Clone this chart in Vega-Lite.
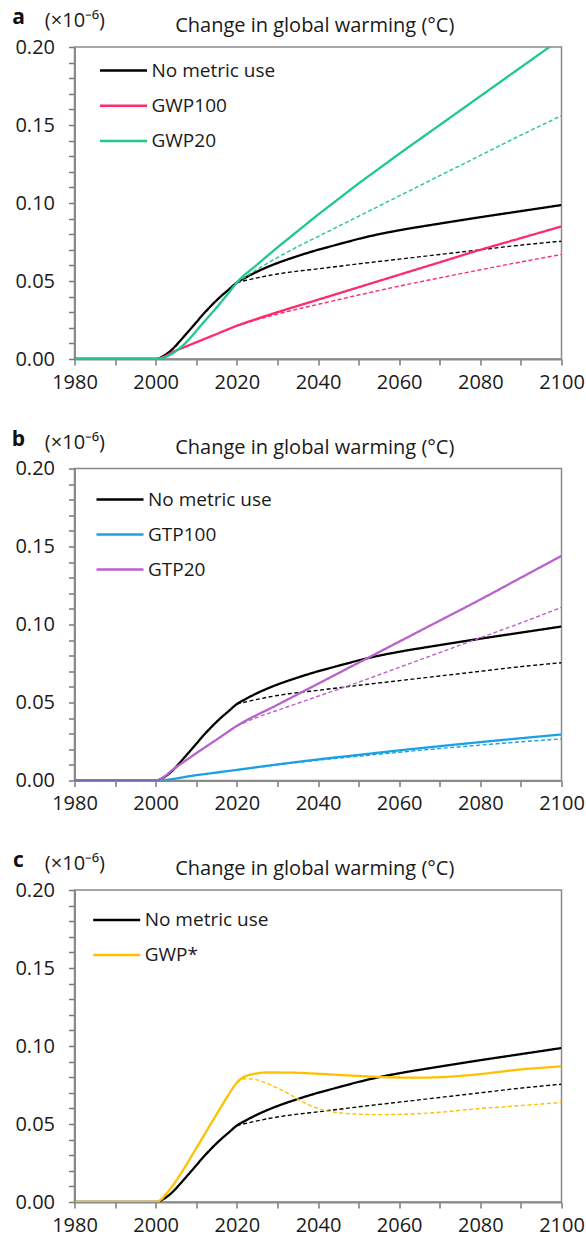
{
  "$schema": "https://vega.github.io/schema/vega-lite/v6.json",
  "padding": {"left": 10.5, "top": 6, "right": 0, "bottom": 0},
  "background": "white",
  "bounds": "flush",
  "spacing": 109.5,
  "config": {
    "view": {"stroke": "#8a8a8a", "strokeWidth": 1.5},
    "font": "Open Sans",
    "axis": {
      "domainColor": "#8a8a8a", "domainWidth": 2, "ticks": true, "tickColor": "#7a7a7a", "tickWidth": 1.5,
      "tickSize": 6, "grid": false, "labelFont": "Open Sans", "labelFontSize": 20, "labelColor": "#1a1a1a", "labelOverlap": false
    },
    "legend": {"labelFont": "Open Sans", "labelFontSize": 19, "labelColor": "#1a1a1a"}
  },
  "resolve": {"scale": {"color": "independent"}},
  "datasets": {
    "curves": [
      {"panel":"a","series":"No metric use","style":"solid","year":1980,"value":0},
      {"panel":"a","series":"No metric use","style":"solid","year":2000,"value":0},
      {"panel":"a","series":"No metric use","style":"solid","year":2002,"value":0.002},
      {"panel":"a","series":"No metric use","style":"solid","year":2004,"value":0.006},
      {"panel":"a","series":"No metric use","style":"solid","year":2006,"value":0.0115},
      {"panel":"a","series":"No metric use","style":"solid","year":2008,"value":0.0175},
      {"panel":"a","series":"No metric use","style":"solid","year":2010,"value":0.0235},
      {"panel":"a","series":"No metric use","style":"solid","year":2012,"value":0.0295},
      {"panel":"a","series":"No metric use","style":"solid","year":2014,"value":0.035},
      {"panel":"a","series":"No metric use","style":"solid","year":2016,"value":0.040},
      {"panel":"a","series":"No metric use","style":"solid","year":2018,"value":0.0445},
      {"panel":"a","series":"No metric use","style":"solid","year":2020,"value":0.049},
      {"panel":"a","series":"No metric use","style":"solid","year":2022,"value":0.052},
      {"panel":"a","series":"No metric use","style":"solid","year":2025,"value":0.056},
      {"panel":"a","series":"No metric use","style":"solid","year":2030,"value":0.0615},
      {"panel":"a","series":"No metric use","style":"solid","year":2035,"value":0.066},
      {"panel":"a","series":"No metric use","style":"solid","year":2040,"value":0.070},
      {"panel":"a","series":"No metric use","style":"solid","year":2045,"value":0.0735},
      {"panel":"a","series":"No metric use","style":"solid","year":2050,"value":0.077},
      {"panel":"a","series":"No metric use","style":"solid","year":2055,"value":0.080},
      {"panel":"a","series":"No metric use","style":"solid","year":2060,"value":0.0825},
      {"panel":"a","series":"No metric use","style":"solid","year":2070,"value":0.0868},
      {"panel":"a","series":"No metric use","style":"solid","year":2080,"value":0.0909},
      {"panel":"a","series":"No metric use","style":"solid","year":2090,"value":0.0948},
      {"panel":"a","series":"No metric use","style":"solid","year":2100,"value":0.0987},
      {"panel":"a","series":"No metric use","style":"dashed","year":2020,"value":0.049},
      {"panel":"a","series":"No metric use","style":"dashed","year":2025,"value":0.052},
      {"panel":"a","series":"No metric use","style":"dashed","year":2030,"value":0.0545},
      {"panel":"a","series":"No metric use","style":"dashed","year":2035,"value":0.0563},
      {"panel":"a","series":"No metric use","style":"dashed","year":2040,"value":0.0578},
      {"panel":"a","series":"No metric use","style":"dashed","year":2050,"value":0.061},
      {"panel":"a","series":"No metric use","style":"dashed","year":2060,"value":0.064},
      {"panel":"a","series":"No metric use","style":"dashed","year":2070,"value":0.067},
      {"panel":"a","series":"No metric use","style":"dashed","year":2080,"value":0.070},
      {"panel":"a","series":"No metric use","style":"dashed","year":2090,"value":0.073},
      {"panel":"a","series":"No metric use","style":"dashed","year":2100,"value":0.0755},
      {"panel":"a","series":"GWP100","style":"solid","year":1980,"value":0},
      {"panel":"a","series":"GWP100","style":"solid","year":2000,"value":0},
      {"panel":"a","series":"GWP100","style":"solid","year":2005,"value":0.0054},
      {"panel":"a","series":"GWP100","style":"solid","year":2010,"value":0.0107},
      {"panel":"a","series":"GWP100","style":"solid","year":2015,"value":0.016},
      {"panel":"a","series":"GWP100","style":"solid","year":2020,"value":0.0213},
      {"panel":"a","series":"GWP100","style":"solid","year":2025,"value":0.0258},
      {"panel":"a","series":"GWP100","style":"solid","year":2030,"value":0.030},
      {"panel":"a","series":"GWP100","style":"solid","year":2040,"value":0.038},
      {"panel":"a","series":"GWP100","style":"solid","year":2050,"value":0.046},
      {"panel":"a","series":"GWP100","style":"solid","year":2060,"value":0.054},
      {"panel":"a","series":"GWP100","style":"solid","year":2070,"value":0.062},
      {"panel":"a","series":"GWP100","style":"solid","year":2080,"value":0.070},
      {"panel":"a","series":"GWP100","style":"solid","year":2090,"value":0.0775},
      {"panel":"a","series":"GWP100","style":"solid","year":2100,"value":0.085},
      {"panel":"a","series":"GWP100","style":"dashed","year":2020,"value":0.0213},
      {"panel":"a","series":"GWP100","style":"dashed","year":2025,"value":0.0252},
      {"panel":"a","series":"GWP100","style":"dashed","year":2030,"value":0.0288},
      {"panel":"a","series":"GWP100","style":"dashed","year":2040,"value":0.035},
      {"panel":"a","series":"GWP100","style":"dashed","year":2050,"value":0.041},
      {"panel":"a","series":"GWP100","style":"dashed","year":2060,"value":0.0467},
      {"panel":"a","series":"GWP100","style":"dashed","year":2070,"value":0.052},
      {"panel":"a","series":"GWP100","style":"dashed","year":2080,"value":0.0572},
      {"panel":"a","series":"GWP100","style":"dashed","year":2090,"value":0.0622},
      {"panel":"a","series":"GWP100","style":"dashed","year":2100,"value":0.067},
      {"panel":"a","series":"GWP20","style":"solid","year":1980,"value":0},
      {"panel":"a","series":"GWP20","style":"solid","year":2000,"value":0},
      {"panel":"a","series":"GWP20","style":"solid","year":2003,"value":0.002},
      {"panel":"a","series":"GWP20","style":"solid","year":2005,"value":0.005},
      {"panel":"a","series":"GWP20","style":"solid","year":2008,"value":0.012},
      {"panel":"a","series":"GWP20","style":"solid","year":2010,"value":0.018},
      {"panel":"a","series":"GWP20","style":"solid","year":2013,"value":0.027},
      {"panel":"a","series":"GWP20","style":"solid","year":2015,"value":0.033},
      {"panel":"a","series":"GWP20","style":"solid","year":2018,"value":0.0425},
      {"panel":"a","series":"GWP20","style":"solid","year":2020,"value":0.049},
      {"panel":"a","series":"GWP20","style":"solid","year":2025,"value":0.0605},
      {"panel":"a","series":"GWP20","style":"solid","year":2030,"value":0.0715},
      {"panel":"a","series":"GWP20","style":"solid","year":2035,"value":0.082},
      {"panel":"a","series":"GWP20","style":"solid","year":2040,"value":0.0925},
      {"panel":"a","series":"GWP20","style":"solid","year":2045,"value":0.1025},
      {"panel":"a","series":"GWP20","style":"solid","year":2050,"value":0.1125},
      {"panel":"a","series":"GWP20","style":"solid","year":2055,"value":0.122},
      {"panel":"a","series":"GWP20","style":"solid","year":2060,"value":0.1315},
      {"panel":"a","series":"GWP20","style":"solid","year":2070,"value":0.150},
      {"panel":"a","series":"GWP20","style":"solid","year":2080,"value":0.1685},
      {"panel":"a","series":"GWP20","style":"solid","year":2090,"value":0.187},
      {"panel":"a","series":"GWP20","style":"solid","year":2100,"value":0.2055},
      {"panel":"a","series":"GWP20","style":"dashed","year":2020,"value":0.049},
      {"panel":"a","series":"GWP20","style":"dashed","year":2025,"value":0.0575},
      {"panel":"a","series":"GWP20","style":"dashed","year":2030,"value":0.065},
      {"panel":"a","series":"GWP20","style":"dashed","year":2035,"value":0.072},
      {"panel":"a","series":"GWP20","style":"dashed","year":2040,"value":0.0785},
      {"panel":"a","series":"GWP20","style":"dashed","year":2050,"value":0.0915},
      {"panel":"a","series":"GWP20","style":"dashed","year":2060,"value":0.1045},
      {"panel":"a","series":"GWP20","style":"dashed","year":2070,"value":0.1175},
      {"panel":"a","series":"GWP20","style":"dashed","year":2080,"value":0.1305},
      {"panel":"a","series":"GWP20","style":"dashed","year":2090,"value":0.1435},
      {"panel":"a","series":"GWP20","style":"dashed","year":2100,"value":0.156},

      {"panel":"b","series":"No metric use","style":"solid","year":1980,"value":0},
      {"panel":"b","series":"No metric use","style":"solid","year":2000,"value":0},
      {"panel":"b","series":"No metric use","style":"solid","year":2002,"value":0.002},
      {"panel":"b","series":"No metric use","style":"solid","year":2004,"value":0.006},
      {"panel":"b","series":"No metric use","style":"solid","year":2006,"value":0.0115},
      {"panel":"b","series":"No metric use","style":"solid","year":2008,"value":0.0175},
      {"panel":"b","series":"No metric use","style":"solid","year":2010,"value":0.0235},
      {"panel":"b","series":"No metric use","style":"solid","year":2012,"value":0.0295},
      {"panel":"b","series":"No metric use","style":"solid","year":2014,"value":0.035},
      {"panel":"b","series":"No metric use","style":"solid","year":2016,"value":0.040},
      {"panel":"b","series":"No metric use","style":"solid","year":2018,"value":0.0445},
      {"panel":"b","series":"No metric use","style":"solid","year":2020,"value":0.049},
      {"panel":"b","series":"No metric use","style":"solid","year":2022,"value":0.052},
      {"panel":"b","series":"No metric use","style":"solid","year":2025,"value":0.056},
      {"panel":"b","series":"No metric use","style":"solid","year":2030,"value":0.0615},
      {"panel":"b","series":"No metric use","style":"solid","year":2035,"value":0.066},
      {"panel":"b","series":"No metric use","style":"solid","year":2040,"value":0.070},
      {"panel":"b","series":"No metric use","style":"solid","year":2045,"value":0.0735},
      {"panel":"b","series":"No metric use","style":"solid","year":2050,"value":0.077},
      {"panel":"b","series":"No metric use","style":"solid","year":2055,"value":0.080},
      {"panel":"b","series":"No metric use","style":"solid","year":2060,"value":0.0825},
      {"panel":"b","series":"No metric use","style":"solid","year":2070,"value":0.0868},
      {"panel":"b","series":"No metric use","style":"solid","year":2080,"value":0.0909},
      {"panel":"b","series":"No metric use","style":"solid","year":2090,"value":0.0948},
      {"panel":"b","series":"No metric use","style":"solid","year":2100,"value":0.0987},
      {"panel":"b","series":"No metric use","style":"dashed","year":2020,"value":0.049},
      {"panel":"b","series":"No metric use","style":"dashed","year":2025,"value":0.052},
      {"panel":"b","series":"No metric use","style":"dashed","year":2030,"value":0.0545},
      {"panel":"b","series":"No metric use","style":"dashed","year":2035,"value":0.0563},
      {"panel":"b","series":"No metric use","style":"dashed","year":2040,"value":0.0578},
      {"panel":"b","series":"No metric use","style":"dashed","year":2050,"value":0.061},
      {"panel":"b","series":"No metric use","style":"dashed","year":2060,"value":0.064},
      {"panel":"b","series":"No metric use","style":"dashed","year":2070,"value":0.067},
      {"panel":"b","series":"No metric use","style":"dashed","year":2080,"value":0.070},
      {"panel":"b","series":"No metric use","style":"dashed","year":2090,"value":0.073},
      {"panel":"b","series":"No metric use","style":"dashed","year":2100,"value":0.0755},
      {"panel":"b","series":"GTP100","style":"solid","year":1980,"value":0},
      {"panel":"b","series":"GTP100","style":"solid","year":2000,"value":0},
      {"panel":"b","series":"GTP100","style":"solid","year":2010,"value":0.0034},
      {"panel":"b","series":"GTP100","style":"solid","year":2020,"value":0.0068},
      {"panel":"b","series":"GTP100","style":"solid","year":2030,"value":0.0103},
      {"panel":"b","series":"GTP100","style":"solid","year":2040,"value":0.0135},
      {"panel":"b","series":"GTP100","style":"solid","year":2050,"value":0.0164},
      {"panel":"b","series":"GTP100","style":"solid","year":2060,"value":0.0193},
      {"panel":"b","series":"GTP100","style":"solid","year":2070,"value":0.0220},
      {"panel":"b","series":"GTP100","style":"solid","year":2080,"value":0.0246},
      {"panel":"b","series":"GTP100","style":"solid","year":2090,"value":0.0271},
      {"panel":"b","series":"GTP100","style":"solid","year":2100,"value":0.0295},
      {"panel":"b","series":"GTP100","style":"dashed","year":2020,"value":0.0068},
      {"panel":"b","series":"GTP100","style":"dashed","year":2030,"value":0.0100},
      {"panel":"b","series":"GTP100","style":"dashed","year":2040,"value":0.0130},
      {"panel":"b","series":"GTP100","style":"dashed","year":2050,"value":0.0156},
      {"panel":"b","series":"GTP100","style":"dashed","year":2060,"value":0.0181},
      {"panel":"b","series":"GTP100","style":"dashed","year":2070,"value":0.0205},
      {"panel":"b","series":"GTP100","style":"dashed","year":2080,"value":0.0227},
      {"panel":"b","series":"GTP100","style":"dashed","year":2090,"value":0.0248},
      {"panel":"b","series":"GTP100","style":"dashed","year":2100,"value":0.0267},
      {"panel":"b","series":"GTP20","style":"solid","year":1980,"value":0},
      {"panel":"b","series":"GTP20","style":"solid","year":2000,"value":0},
      {"panel":"b","series":"GTP20","style":"solid","year":2005,"value":0.0085},
      {"panel":"b","series":"GTP20","style":"solid","year":2010,"value":0.0175},
      {"panel":"b","series":"GTP20","style":"solid","year":2015,"value":0.0262},
      {"panel":"b","series":"GTP20","style":"solid","year":2020,"value":0.035},
      {"panel":"b","series":"GTP20","style":"solid","year":2030,"value":0.0485},
      {"panel":"b","series":"GTP20","style":"solid","year":2040,"value":0.062},
      {"panel":"b","series":"GTP20","style":"solid","year":2050,"value":0.0755},
      {"panel":"b","series":"GTP20","style":"solid","year":2060,"value":0.089},
      {"panel":"b","series":"GTP20","style":"solid","year":2070,"value":0.1025},
      {"panel":"b","series":"GTP20","style":"solid","year":2080,"value":0.116},
      {"panel":"b","series":"GTP20","style":"solid","year":2090,"value":0.130},
      {"panel":"b","series":"GTP20","style":"solid","year":2100,"value":0.144},
      {"panel":"b","series":"GTP20","style":"dashed","year":2020,"value":0.035},
      {"panel":"b","series":"GTP20","style":"dashed","year":2025,"value":0.0405},
      {"panel":"b","series":"GTP20","style":"dashed","year":2030,"value":0.045},
      {"panel":"b","series":"GTP20","style":"dashed","year":2035,"value":0.0495},
      {"panel":"b","series":"GTP20","style":"dashed","year":2040,"value":0.054},
      {"panel":"b","series":"GTP20","style":"dashed","year":2050,"value":0.063},
      {"panel":"b","series":"GTP20","style":"dashed","year":2060,"value":0.0725},
      {"panel":"b","series":"GTP20","style":"dashed","year":2070,"value":0.082},
      {"panel":"b","series":"GTP20","style":"dashed","year":2080,"value":0.0915},
      {"panel":"b","series":"GTP20","style":"dashed","year":2090,"value":0.101},
      {"panel":"b","series":"GTP20","style":"dashed","year":2100,"value":0.111},

      {"panel":"c","series":"No metric use","style":"solid","year":1980,"value":0},
      {"panel":"c","series":"No metric use","style":"solid","year":2000,"value":0},
      {"panel":"c","series":"No metric use","style":"solid","year":2002,"value":0.002},
      {"panel":"c","series":"No metric use","style":"solid","year":2004,"value":0.006},
      {"panel":"c","series":"No metric use","style":"solid","year":2006,"value":0.0115},
      {"panel":"c","series":"No metric use","style":"solid","year":2008,"value":0.0175},
      {"panel":"c","series":"No metric use","style":"solid","year":2010,"value":0.0235},
      {"panel":"c","series":"No metric use","style":"solid","year":2012,"value":0.0295},
      {"panel":"c","series":"No metric use","style":"solid","year":2014,"value":0.035},
      {"panel":"c","series":"No metric use","style":"solid","year":2016,"value":0.040},
      {"panel":"c","series":"No metric use","style":"solid","year":2018,"value":0.0445},
      {"panel":"c","series":"No metric use","style":"solid","year":2020,"value":0.049},
      {"panel":"c","series":"No metric use","style":"solid","year":2022,"value":0.052},
      {"panel":"c","series":"No metric use","style":"solid","year":2025,"value":0.056},
      {"panel":"c","series":"No metric use","style":"solid","year":2030,"value":0.0615},
      {"panel":"c","series":"No metric use","style":"solid","year":2035,"value":0.066},
      {"panel":"c","series":"No metric use","style":"solid","year":2040,"value":0.070},
      {"panel":"c","series":"No metric use","style":"solid","year":2045,"value":0.0735},
      {"panel":"c","series":"No metric use","style":"solid","year":2050,"value":0.077},
      {"panel":"c","series":"No metric use","style":"solid","year":2055,"value":0.080},
      {"panel":"c","series":"No metric use","style":"solid","year":2060,"value":0.0825},
      {"panel":"c","series":"No metric use","style":"solid","year":2070,"value":0.0868},
      {"panel":"c","series":"No metric use","style":"solid","year":2080,"value":0.0909},
      {"panel":"c","series":"No metric use","style":"solid","year":2090,"value":0.0948},
      {"panel":"c","series":"No metric use","style":"solid","year":2100,"value":0.0987},
      {"panel":"c","series":"No metric use","style":"dashed","year":2020,"value":0.049},
      {"panel":"c","series":"No metric use","style":"dashed","year":2025,"value":0.052},
      {"panel":"c","series":"No metric use","style":"dashed","year":2030,"value":0.0545},
      {"panel":"c","series":"No metric use","style":"dashed","year":2035,"value":0.0563},
      {"panel":"c","series":"No metric use","style":"dashed","year":2040,"value":0.0578},
      {"panel":"c","series":"No metric use","style":"dashed","year":2050,"value":0.061},
      {"panel":"c","series":"No metric use","style":"dashed","year":2060,"value":0.064},
      {"panel":"c","series":"No metric use","style":"dashed","year":2070,"value":0.067},
      {"panel":"c","series":"No metric use","style":"dashed","year":2080,"value":0.070},
      {"panel":"c","series":"No metric use","style":"dashed","year":2090,"value":0.073},
      {"panel":"c","series":"No metric use","style":"dashed","year":2100,"value":0.0755},
      {"panel":"c","series":"GWP*","style":"solid","year":1980,"value":0},
      {"panel":"c","series":"GWP*","style":"solid","year":2000,"value":0},
      {"panel":"c","series":"GWP*","style":"solid","year":2001,"value":0.001},
      {"panel":"c","series":"GWP*","style":"solid","year":2003,"value":0.0065},
      {"panel":"c","series":"GWP*","style":"solid","year":2005,"value":0.0135},
      {"panel":"c","series":"GWP*","style":"solid","year":2007,"value":0.0215},
      {"panel":"c","series":"GWP*","style":"solid","year":2010,"value":0.0345},
      {"panel":"c","series":"GWP*","style":"solid","year":2013,"value":0.0475},
      {"panel":"c","series":"GWP*","style":"solid","year":2016,"value":0.0605},
      {"panel":"c","series":"GWP*","style":"solid","year":2018,"value":0.069},
      {"panel":"c","series":"GWP*","style":"solid","year":2020,"value":0.0765},
      {"panel":"c","series":"GWP*","style":"solid","year":2022,"value":0.0805},
      {"panel":"c","series":"GWP*","style":"solid","year":2024,"value":0.082},
      {"panel":"c","series":"GWP*","style":"solid","year":2027,"value":0.083},
      {"panel":"c","series":"GWP*","style":"solid","year":2030,"value":0.083},
      {"panel":"c","series":"GWP*","style":"solid","year":2035,"value":0.0828},
      {"panel":"c","series":"GWP*","style":"solid","year":2040,"value":0.0822},
      {"panel":"c","series":"GWP*","style":"solid","year":2045,"value":0.0815},
      {"panel":"c","series":"GWP*","style":"solid","year":2050,"value":0.0808},
      {"panel":"c","series":"GWP*","style":"solid","year":2055,"value":0.0802},
      {"panel":"c","series":"GWP*","style":"solid","year":2060,"value":0.0798},
      {"panel":"c","series":"GWP*","style":"solid","year":2065,"value":0.0797},
      {"panel":"c","series":"GWP*","style":"solid","year":2070,"value":0.080},
      {"panel":"c","series":"GWP*","style":"solid","year":2075,"value":0.0808},
      {"panel":"c","series":"GWP*","style":"solid","year":2080,"value":0.082},
      {"panel":"c","series":"GWP*","style":"solid","year":2085,"value":0.0835},
      {"panel":"c","series":"GWP*","style":"solid","year":2090,"value":0.085},
      {"panel":"c","series":"GWP*","style":"solid","year":2095,"value":0.086},
      {"panel":"c","series":"GWP*","style":"solid","year":2100,"value":0.087},
      {"panel":"c","series":"GWP*","style":"dashed","year":2020,"value":0.0765},
      {"panel":"c","series":"GWP*","style":"dashed","year":2022,"value":0.079},
      {"panel":"c","series":"GWP*","style":"dashed","year":2024,"value":0.0788},
      {"panel":"c","series":"GWP*","style":"dashed","year":2026,"value":0.0775},
      {"panel":"c","series":"GWP*","style":"dashed","year":2028,"value":0.0755},
      {"panel":"c","series":"GWP*","style":"dashed","year":2030,"value":0.073},
      {"panel":"c","series":"GWP*","style":"dashed","year":2032,"value":0.0705},
      {"panel":"c","series":"GWP*","style":"dashed","year":2034,"value":0.0675},
      {"panel":"c","series":"GWP*","style":"dashed","year":2036,"value":0.0645},
      {"panel":"c","series":"GWP*","style":"dashed","year":2038,"value":0.062},
      {"panel":"c","series":"GWP*","style":"dashed","year":2040,"value":0.060},
      {"panel":"c","series":"GWP*","style":"dashed","year":2043,"value":0.058},
      {"panel":"c","series":"GWP*","style":"dashed","year":2046,"value":0.057},
      {"panel":"c","series":"GWP*","style":"dashed","year":2050,"value":0.0563},
      {"panel":"c","series":"GWP*","style":"dashed","year":2055,"value":0.056},
      {"panel":"c","series":"GWP*","style":"dashed","year":2060,"value":0.0562},
      {"panel":"c","series":"GWP*","style":"dashed","year":2065,"value":0.0567},
      {"panel":"c","series":"GWP*","style":"dashed","year":2070,"value":0.0575},
      {"panel":"c","series":"GWP*","style":"dashed","year":2075,"value":0.0587},
      {"panel":"c","series":"GWP*","style":"dashed","year":2080,"value":0.060},
      {"panel":"c","series":"GWP*","style":"dashed","year":2085,"value":0.0608},
      {"panel":"c","series":"GWP*","style":"dashed","year":2090,"value":0.0618},
      {"panel":"c","series":"GWP*","style":"dashed","year":2095,"value":0.0628},
      {"panel":"c","series":"GWP*","style":"dashed","year":2100,"value":0.0638}
    ]
  },
  "vconcat": [
    {
      "width": 487, "height": 312,
      "resolve": {"axis": {"x": "independent", "y": "independent"}},
      "layer": [
        {
          "data": {"name": "curves"},
          "transform": [{"filter": "datum.panel === 'a'"}],
          "mark": {"type": "line", "interpolate": "monotone", "clip": true},
          "encoding": {
            "x": {"field": "year", "type": "quantitative", "scale": {"domain": [1980, 2100], "nice": false, "zero": false},
                  "axis": {"title": null, "orient": "bottom", "values": [1980,1990,2000,2010,2020,2030,2040,2050,2060,2070,2080,2090,2100], "labelExpr": "datum.value % 20 == 0 ? format(datum.value, 'd') : ''", "labelPadding": 7, "labelFlush": false, "labelOverlap": false, "ticks": true, "tickSize": 6, "tickWidth": 1.5, "tickColor": "#7a7a7a"}},
            "y": {"field": "value", "type": "quantitative", "scale": {"domain": [0, 0.2], "nice": false, "zero": false},
                  "axis": {"title": null, "orient": "left", "values": [0,0.01,0.02,0.03,0.04,0.05,0.06,0.07,0.08,0.09,0.1,0.11,0.12,0.13,0.14,0.15,0.16,0.17,0.18,0.19,0.2], "labelExpr": "round(datum.value*100) % 5 == 0 ? format(datum.value, '.2f') : ''", "labelPadding": 14, "labelOverlap": false, "labelFlush": false, "ticks": true, "tickSize": 6, "tickWidth": 1.5, "tickColor": "#7a7a7a"}},
            "color": {"field": "series", "type": "nominal", "sort": ["No metric use", "GWP100", "GWP20"],
                      "scale": {"domain": ["No metric use", "GWP100", "GWP20"], "range": ["#000000", "#FF2A6A", "#1EC98B"]},
                      "legend": {"title": null, "orient": "none", "legendX": 24, "legendY": -1.5, "padding": 0, "symbolType": "stroke", "symbolSize": 2209, "symbolStrokeWidth": 2.5, "labelOffset": 3, "rowPadding": 0.3}},
            "strokeDash": {"field": "style", "type": "nominal", "scale": {"domain": ["solid", "dashed"], "range": [[1, 0], [4, 2.5]]}, "legend": null},
            "strokeWidth": {"field": "style", "type": "nominal", "scale": {"domain": ["solid", "dashed"], "range": [2.3, 1.4]}, "legend": null},
            "detail": {"field": "style"}
          }
        },
        {
          "data": {"values": [{"t": "a"}]},
          "mark": {"type": "text", "font": "Open Sans", "fontSize": 21, "fontWeight": "bold", "align": "center", "baseline": "alphabetic", "color": "#111111"},
          "encoding": {"text": {"field": "t"}, "x": {"datum": 1966.2, "type": "quantitative", "axis": null}, "y": {"datum": 0.2147, "type": "quantitative", "axis": null}}
        },
        {
          "data": {"values": [{"t": "(×10⁻⁶)"}]},
          "mark": {"type": "text", "font": "Open Sans", "fontSize": 20, "align": "left", "baseline": "alphabetic", "color": "#1a1a1a"},
          "encoding": {"text": {"field": "t"}, "x": {"datum": 1972.7, "type": "quantitative", "axis": null}, "y": {"datum": 0.2126, "type": "quantitative", "axis": null}}
        },
        {
          "data": {"values": [{"t": "Change in global warming (°C)"}]},
          "mark": {"type": "text", "font": "Open Sans", "fontSize": 20, "align": "center", "baseline": "alphabetic", "color": "#1a1a1a"},
          "encoding": {"text": {"field": "t"}, "x": {"datum": 2039.2, "type": "quantitative", "axis": null}, "y": {"datum": 0.2095, "type": "quantitative", "axis": null}}
        }
      ]
    },
    {
      "width": 487, "height": 312,
      "resolve": {"axis": {"x": "independent", "y": "independent"}},
      "layer": [
        {
          "data": {"name": "curves"},
          "transform": [{"filter": "datum.panel === 'b'"}],
          "mark": {"type": "line", "interpolate": "monotone", "clip": true},
          "encoding": {
            "x": {"field": "year", "type": "quantitative", "scale": {"domain": [1980, 2100], "nice": false, "zero": false},
                  "axis": {"title": null, "orient": "bottom", "values": [1980,1990,2000,2010,2020,2030,2040,2050,2060,2070,2080,2090,2100], "labelExpr": "datum.value % 20 == 0 ? format(datum.value, 'd') : ''", "labelPadding": 7, "labelFlush": false, "labelOverlap": false, "ticks": true, "tickSize": 6, "tickWidth": 1.5, "tickColor": "#7a7a7a"}},
            "y": {"field": "value", "type": "quantitative", "scale": {"domain": [0, 0.2], "nice": false, "zero": false},
                  "axis": {"title": null, "orient": "left", "values": [0,0.01,0.02,0.03,0.04,0.05,0.06,0.07,0.08,0.09,0.1,0.11,0.12,0.13,0.14,0.15,0.16,0.17,0.18,0.19,0.2], "labelExpr": "round(datum.value*100) % 5 == 0 ? format(datum.value, '.2f') : ''", "labelPadding": 14, "labelOverlap": false, "labelFlush": false, "ticks": true, "tickSize": 6, "tickWidth": 1.5, "tickColor": "#7a7a7a"}},
            "color": {"field": "series", "type": "nominal", "sort": ["No metric use", "GTP100", "GTP20"],
                      "scale": {"domain": ["No metric use", "GTP100", "GTP20"], "range": ["#000000", "#1AA0E4", "#B862CC"]},
                      "legend": {"title": null, "orient": "none", "legendX": 20.5, "legendY": 6, "padding": 0, "symbolType": "stroke", "symbolSize": 2209, "symbolStrokeWidth": 2.5, "labelOffset": 3, "rowPadding": -1.5}},
            "strokeDash": {"field": "style", "type": "nominal", "scale": {"domain": ["solid", "dashed"], "range": [[1, 0], [4, 2.5]]}, "legend": null},
            "strokeWidth": {"field": "style", "type": "nominal", "scale": {"domain": ["solid", "dashed"], "range": [2.3, 1.4]}, "legend": null},
            "detail": {"field": "style"}
          }
        },
        {
          "data": {"values": [{"t": "b"}]},
          "mark": {"type": "text", "font": "Open Sans", "fontSize": 21, "fontWeight": "bold", "align": "center", "baseline": "alphabetic", "color": "#111111"},
          "encoding": {"text": {"field": "t"}, "x": {"datum": 1966.2, "type": "quantitative", "axis": null}, "y": {"datum": 0.2147, "type": "quantitative", "axis": null}}
        },
        {
          "data": {"values": [{"t": "(×10⁻⁶)"}]},
          "mark": {"type": "text", "font": "Open Sans", "fontSize": 20, "align": "left", "baseline": "alphabetic", "color": "#1a1a1a"},
          "encoding": {"text": {"field": "t"}, "x": {"datum": 1972.7, "type": "quantitative", "axis": null}, "y": {"datum": 0.2126, "type": "quantitative", "axis": null}}
        },
        {
          "data": {"values": [{"t": "Change in global warming (°C)"}]},
          "mark": {"type": "text", "font": "Open Sans", "fontSize": 20, "align": "center", "baseline": "alphabetic", "color": "#1a1a1a"},
          "encoding": {"text": {"field": "t"}, "x": {"datum": 2039.2, "type": "quantitative", "axis": null}, "y": {"datum": 0.2095, "type": "quantitative", "axis": null}}
        }
      ]
    },
    {
      "width": 487, "height": 312,
      "resolve": {"axis": {"x": "independent", "y": "independent"}},
      "layer": [
        {
          "data": {"name": "curves"},
          "transform": [{"filter": "datum.panel === 'c'"}],
          "mark": {"type": "line", "interpolate": "monotone", "clip": true},
          "encoding": {
            "x": {"field": "year", "type": "quantitative", "scale": {"domain": [1980, 2100], "nice": false, "zero": false},
                  "axis": {"title": null, "orient": "bottom", "values": [1980,1990,2000,2010,2020,2030,2040,2050,2060,2070,2080,2090,2100], "labelExpr": "datum.value % 20 == 0 ? format(datum.value, 'd') : ''", "labelPadding": 7, "labelFlush": false, "labelOverlap": false, "ticks": true, "tickSize": 6, "tickWidth": 1.5, "tickColor": "#7a7a7a"}},
            "y": {"field": "value", "type": "quantitative", "scale": {"domain": [0, 0.2], "nice": false, "zero": false},
                  "axis": {"title": null, "orient": "left", "values": [0,0.01,0.02,0.03,0.04,0.05,0.06,0.07,0.08,0.09,0.1,0.11,0.12,0.13,0.14,0.15,0.16,0.17,0.18,0.19,0.2], "labelExpr": "round(datum.value*100) % 5 == 0 ? format(datum.value, '.2f') : ''", "labelPadding": 14, "labelOverlap": false, "labelFlush": false, "ticks": true, "tickSize": 6, "tickWidth": 1.5, "tickColor": "#7a7a7a"}},
            "color": {"field": "series", "type": "nominal", "sort": ["No metric use", "GWP*"],
                      "scale": {"domain": ["No metric use", "GWP*"], "range": ["#000000", "#FFC000"]},
                      "legend": {"title": null, "orient": "none", "legendX": 17.2, "legendY": 5, "padding": 0, "symbolType": "stroke", "symbolSize": 2209, "symbolStrokeWidth": 2.5, "labelOffset": 3, "rowPadding": -1.5}},
            "strokeDash": {"field": "style", "type": "nominal", "scale": {"domain": ["solid", "dashed"], "range": [[1, 0], [4, 2.5]]}, "legend": null},
            "strokeWidth": {"field": "style", "type": "nominal", "scale": {"domain": ["solid", "dashed"], "range": [2.3, 1.4]}, "legend": null},
            "detail": {"field": "style"}
          }
        },
        {
          "data": {"values": [{"t": "c"}]},
          "mark": {"type": "text", "font": "Open Sans", "fontSize": 21, "fontWeight": "bold", "align": "center", "baseline": "alphabetic", "color": "#111111"},
          "encoding": {"text": {"field": "t"}, "x": {"datum": 1966.2, "type": "quantitative", "axis": null}, "y": {"datum": 0.2147, "type": "quantitative", "axis": null}}
        },
        {
          "data": {"values": [{"t": "(×10⁻⁶)"}]},
          "mark": {"type": "text", "font": "Open Sans", "fontSize": 20, "align": "left", "baseline": "alphabetic", "color": "#1a1a1a"},
          "encoding": {"text": {"field": "t"}, "x": {"datum": 1972.7, "type": "quantitative", "axis": null}, "y": {"datum": 0.2126, "type": "quantitative", "axis": null}}
        },
        {
          "data": {"values": [{"t": "Change in global warming (°C)"}]},
          "mark": {"type": "text", "font": "Open Sans", "fontSize": 20, "align": "center", "baseline": "alphabetic", "color": "#1a1a1a"},
          "encoding": {"text": {"field": "t"}, "x": {"datum": 2039.2, "type": "quantitative", "axis": null}, "y": {"datum": 0.2095, "type": "quantitative", "axis": null}}
        }
      ]
    }
  ]
}
